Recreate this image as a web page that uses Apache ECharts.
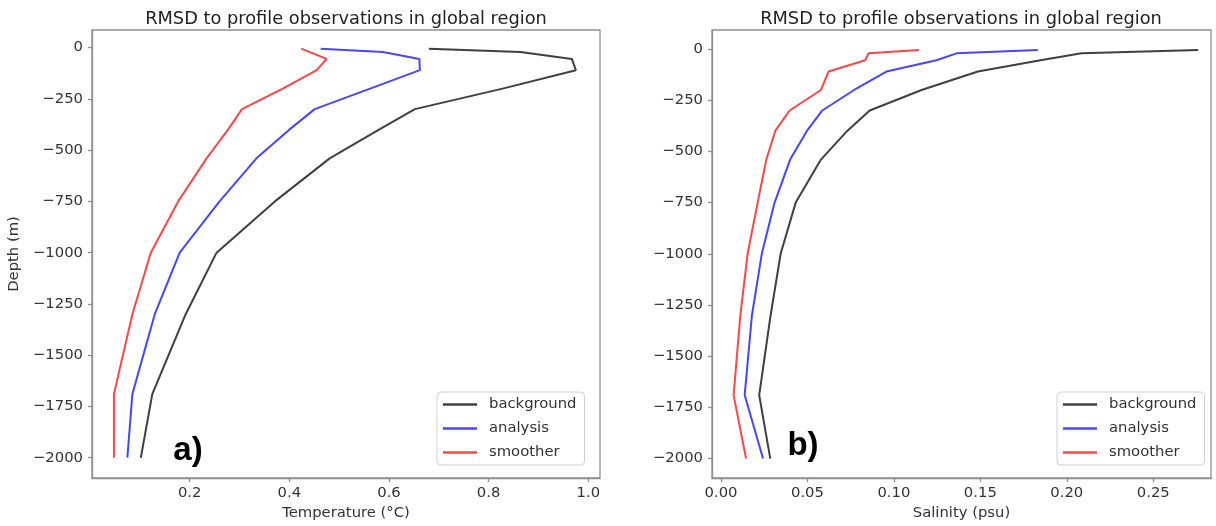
<!DOCTYPE html>
<html>
<head>
<meta charset="utf-8">
<script src="https://cdn.jsdelivr.net/npm/echarts@6/dist/echarts.min.js"></script>
<style>
  html, body { margin: 0; padding: 0; background: #fff; }
  #chart { width: 1216px; height: 526px; }
</style>
</head>
<body>
<div id="chart"></div>
<script>
// depth levels (m), shared by every profile
var depths = [-5, -21, -55, -110, -200, -300, -400, -540, -750, -1000, -1300, -1690, -2000];

// a) temperature RMSD (°C)
var tempBackground = [0.680, 0.864, 0.967, 0.975, 0.828, 0.652, 0.580, 0.481, 0.371, 0.254, 0.192, 0.125, 0.102];
var tempAnalysis   = [0.463, 0.588, 0.661, 0.662, 0.562, 0.451, 0.400, 0.334, 0.260, 0.180, 0.130, 0.085, 0.075];
var tempSmoother   = [0.424, 0.440, 0.475, 0.455, 0.387, 0.305, 0.277, 0.234, 0.177, 0.122, 0.085, 0.048, 0.048];

// b) salinity RMSD (psu)
var salBackground = [0.2760, 0.2085, 0.1848, 0.1486, 0.1160, 0.0860, 0.0730, 0.0578, 0.0432, 0.0345, 0.0287, 0.0221, 0.0285];
var salAnalysis   = [0.1832, 0.1362, 0.1246, 0.0957, 0.0770, 0.0586, 0.0497, 0.0400, 0.0310, 0.0236, 0.0179, 0.0137, 0.0243];
var salSmoother   = [0.1145, 0.0853, 0.0834, 0.0622, 0.0578, 0.0397, 0.0314, 0.0262, 0.0212, 0.0154, 0.0112, 0.0073, 0.0145];

// tick labels
var depthTicks = [0, -250, -500, -750, -1000, -1250, -1500, -1750, -2000];
var tempTicks = [0.2, 0.4, 0.6, 0.8, 1.0];
var salTicks = [0, 0.05, 0.10, 0.15, 0.20, 0.25];

var seriesNames = ['background', 'analysis', 'smoother'];
var seriesColors = ['#3f3f3f', '#4646ff', '#ff4646'];

var chart = echarts.init(document.getElementById('chart'));

var FONT = 'DejaVu Sans';
var textColor = '#333';
var spineColor = '#8f8f8f';

function profile(values) {
    return values.map(function (v, i) { return [v, depths[i]]; });
}
function minusFmt(v) {
    return v < 0 ? '\u2212' + (-v) : String(v);
}

function makeX(idx, min, max, ticks, digits, name) {
    return {
        type: 'value', gridIndex: idx, min: min, max: max,
        name: name, nameLocation: 'middle', nameGap: 25,
        nameTextStyle: { fontFamily: FONT, fontSize: 14.8, color: textColor },
        axisLine: { show: true, onZero: false, lineStyle: { color: spineColor, width: 1.3 } },
        splitLine: { show: false },
        axisTick: { show: true, length: 4, customValues: ticks, lineStyle: { color: spineColor, width: 1.3 } },
        axisLabel: {
            customValues: ticks, margin: 8,
            fontFamily: FONT, fontSize: 14.8, color: textColor,
            formatter: function (v) { return v.toFixed(digits); }
        }
    };
}
function makeY(idx, min, max, name) {
    return {
        type: 'value', gridIndex: idx, min: min, max: max,
        name: name, nameLocation: 'middle', nameGap: 70,
        nameTextStyle: { fontFamily: FONT, fontSize: 14.8, color: textColor },
        axisLine: { show: true, onZero: false, lineStyle: { color: spineColor, width: 1.3 } },
        splitLine: { show: false },
        axisTick: { show: true, length: 4, customValues: depthTicks, lineStyle: { color: spineColor, width: 1.3 } },
        axisLabel: {
            customValues: depthTicks, margin: 9,
            fontFamily: FONT, fontSize: 14.8, color: textColor,
            formatter: minusFmt
        }
    };
}
function makeSeries(name, color, idx, values) {
    return {
        name: name, type: 'line', xAxisIndex: idx, yAxisIndex: idx,
        data: profile(values), symbol: 'none', showSymbol: false,
        lineStyle: { color: color, width: 2 },
        itemStyle: { color: color },
        emphasis: { disabled: true }
    };
}
function makeLegend(left) {
    return {
        orient: 'vertical', left: left, top: 392,
        data: seriesNames,
        icon: 'rect', itemWidth: 34, itemHeight: 2.5, itemGap: 9,
        padding: [5, 8, 5, 6],
        borderColor: '#d0d0d0', borderWidth: 1, borderRadius: 4,
        backgroundColor: 'rgba(255,255,255,0.85)',
        textStyle: { fontFamily: FONT, fontSize: 14.8, color: textColor, padding: [0, 0, 0, 7] }
    };
}

var title = 'RMSD to profile observations in global region';

var option = {
    animation: false,
    backgroundColor: '#fff',
    grid: [
        { left: 92, top: 30, width: 508, height: 448, show: true, borderColor: spineColor, borderWidth: 1.3 },
        { left: 712, top: 30, width: 499, height: 448, show: true, borderColor: spineColor, borderWidth: 1.3 }
    ],
    xAxis: [
        makeX(0, 0.004, 1.0235, tempTicks, 1, 'Temperature (°C)'),
        makeX(1, -0.0052, 0.2834, salTicks, 2, 'Salinity (psu)')
    ],
    yAxis: [
        makeY(0, -2099, 86, 'Depth (m)'),
        makeY(1, -2095, 93, '')
    ],
    legend: [makeLegend(437), makeLegend(1057)],
    series: [
        makeSeries(seriesNames[0], seriesColors[0], 0, tempBackground),
        makeSeries(seriesNames[1], seriesColors[1], 0, tempAnalysis),
        makeSeries(seriesNames[2], seriesColors[2], 0, tempSmoother),
        makeSeries(seriesNames[0], seriesColors[0], 1, salBackground),
        makeSeries(seriesNames[1], seriesColors[1], 1, salAnalysis),
        makeSeries(seriesNames[2], seriesColors[2], 1, salSmoother)
    ],
    graphic: [
        { type: 'text', style: { x: 346, y: 19, text: title, textAlign: 'center', textVerticalAlign: 'middle', font: '17.8px "DejaVu Sans"', fill: '#222' } },
        { type: 'text', style: { x: 961, y: 19, text: title, textAlign: 'center', textVerticalAlign: 'middle', font: '17.8px "DejaVu Sans"', fill: '#222' } },
        { type: 'text', style: { x: 188, y: 451, text: 'a)', textAlign: 'center', textVerticalAlign: 'middle', font: 'bold 33px "Liberation Sans"', fill: '#000' } },
        { type: 'text', style: { x: 803, y: 446, text: 'b)', textAlign: 'center', textVerticalAlign: 'middle', font: 'bold 33px "Liberation Sans"', fill: '#000' } }
    ]
};

chart.setOption(option);
</script>
</body>
</html>
